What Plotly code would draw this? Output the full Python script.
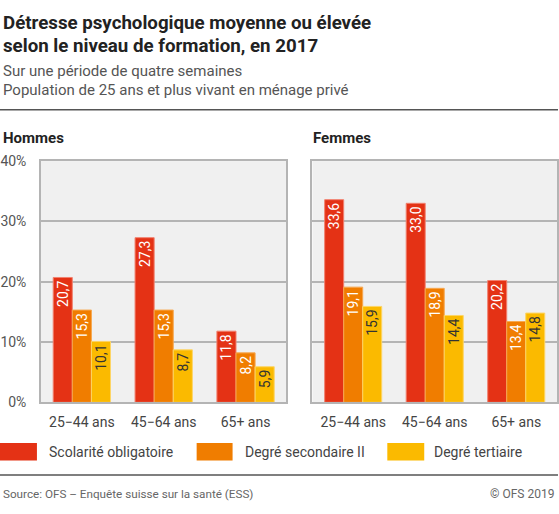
import plotly.graph_objects as go

W, H = 559, 514

# data
ages = ["25\u221244 ans", "45\u221264 ans", "65+ ans"]
levels = ["Scolarité obligatoire", "Degré secondaire II", "Degré tertiaire"]
hommes_oblig = [20.7, 27.3, 11.8]
hommes_sec = [15.3, 15.3, 8.2]
hommes_tert = [10.1, 8.7, 5.9]
femmes_oblig = [33.6, 33.0, 20.2]
femmes_sec = [19.1, 18.9, 13.4]
femmes_tert = [15.9, 14.4, 14.8]
y_ticks = [0, 10, 20, 30, 40]

colors = ["#e43215", "#f07d00", "#fbba00"]
edge = ["#f2816f", "#f6a850", "#fdd566"]
text_col = ["white", "white", "#333333"]
FONT = "Roboto"


def px_x(v):
    return v / W


def px_y(v):
    return 1 - v / H


def fmt(vals):
    return [f"{v:.1f}".replace(".", ",") for v in vals]


fig = go.Figure()

panels = [
    ("x", "y", [hommes_oblig, hommes_sec, hommes_tert]),
    ("x2", "y2", [femmes_oblig, femmes_sec, femmes_tert]),
]
for xa, ya, series in panels:
    for i, vals in enumerate(series):
        fig.add_trace(go.Bar(
            x=ages, y=vals, xaxis=xa, yaxis=ya,
            name=levels[i], showlegend=False,
            marker=dict(color=colors[i], line=dict(color=edge[i], width=1)),
            text=fmt(vals), textposition="inside", insidetextanchor="end",
            textangle=-90, constraintext="none", cliponaxis=False,
            textfont=dict(family=FONT, size=14, color=text_col[i]),
            hoverinfo="skip",
        ))

axis_common = dict(showline=True, mirror=True, linecolor="#b4b4b4", linewidth=1.5)
ydom = [px_y(407), px_y(158)]
fig.update_layout(
    width=W, height=H,
    margin=dict(l=0, r=0, t=0, b=0),
    paper_bgcolor="white", plot_bgcolor="#f0f0f0",
    barmode="group", bargap=0.3, bargroupgap=0,
    font=dict(family=FONT, color="#444444"),
    xaxis=dict(domain=[px_x(41), px_x(287)], anchor="y", ticks="",
               ticklabelstandoff=6,
               tickfont=dict(size=14, color="#444444"), **axis_common),
    xaxis2=dict(domain=[px_x(313), px_x(558)], anchor="y2", ticks="",
                ticklabelstandoff=6,
                tickfont=dict(size=14, color="#444444"), **axis_common),
    yaxis=dict(domain=ydom, range=[0, 40], tickvals=y_ticks,
               ticktext=[f"{t}%" for t in y_ticks], anchor="x",
               ticklabelstandoff=10,
               gridcolor="#b4b4b4", gridwidth=1.5, zeroline=False,
               tickfont=dict(size=14, color="#555555"), **axis_common),
    yaxis2=dict(domain=ydom, range=[0, 40], tickvals=y_ticks,
                showticklabels=False, anchor="x2",
                gridcolor="#b4b4b4", gridwidth=1.5, zeroline=False, **axis_common),
)


def note(text, x, y, size, color="#444444", xanchor="left", bold=False):
    fig.add_annotation(
        text=f"<b>{text}</b>" if bold else text,
        x=px_x(x), y=px_y(y), xref="paper", yref="paper",
        xanchor=xanchor, yanchor="middle", showarrow=False,
        font=dict(family=FONT, size=size, color=color),
    )


note("Détresse psychologique moyenne ou élevée", 1, 15, 18.7, "#222222", bold=True)
note("selon le niveau de formation, en 2017", 1, 39, 18.7, "#222222", bold=True)
note("Sur une période de quatre semaines", 1, 65, 15, "#555555")
note("Population de 25 ans et plus vivant en ménage privé", 1, 85, 15, "#555555")
note("Hommes", 1, 134, 15, "#222222", bold=True)
note("Femmes", 312, 134, 15, "#222222", bold=True)

fig.add_shape(type="line", xref="paper", yref="paper",
              x0=0, x1=1, y0=px_y(105), y1=px_y(105),
              line=dict(color="#555555", width=1.5))
fig.add_shape(type="line", xref="paper", yref="paper",
              x0=0, x1=1, y0=px_y(482), y1=px_y(482),
              line=dict(color="#555555", width=1.5))

# legend
leg_x = [(0, 37, 47), (197, 233, 243), (388, 425, 433)]
for i, (x0, x1, tx) in enumerate(leg_x):
    fig.add_shape(type="rect", xref="paper", yref="paper",
                  x0=px_x(x0), x1=px_x(x1), y0=px_y(467), y1=px_y(449),
                  fillcolor=colors[i], line=dict(width=0))
    note(levels[i], tx, 458, 14, "#444444")

note("Source: OFS \u2013 Enquête suisse sur la santé (ESS)", 1, 502, 11.7, "#666666")
note("© OFS 2019", 557, 502, 12, "#666666", xanchor="right")

fig.write_html("out.html", config={"displayModeBar": False},
               post_script="document.body.style.margin='0';")
